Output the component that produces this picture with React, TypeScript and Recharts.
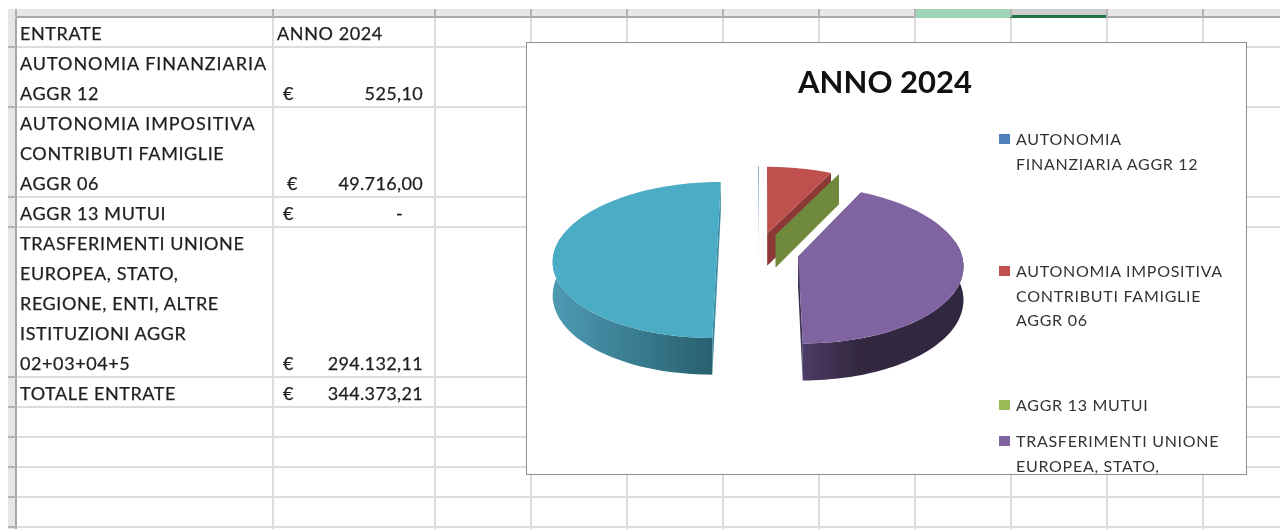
import React from 'react';
import { PieChart, Pie, Legend } from 'recharts';

const categories = [
  'AUTONOMIA FINANZIARIA AGGR 12',
  'AUTONOMIA IMPOSITIVA CONTRIBUTI FAMIGLIE AGGR 06',
  'AGGR 13 MUTUI',
  'TRASFERIMENTI UNIONE EUROPEA, STATO, REGIONE, ENTI, ALTRE ISTITUZIONI AGGR 02+03+04+5',
  'TOTALE ENTRATE',
];
const values = [525.1, 49716, 0, 294132.11, 344373.21];
const amounts = ['525,10', '49.716,00', '-', '294.132,11', '344.373,21'];

const topColors = ['#4F81BD', '#C0504D', '#9BBB59', '#8064A2', '#4BACC6'];
const wallColors = ['#b9cde5', '#8c3836', '#6f8a3d', '#3c3152', '#3a8aa3'];
const outerWalls = ['#b9cde5', '#8c3836', '#6f8a3d', 'url(#wallPurple)', 'url(#wallTeal)'];

const rowLabels = [
  ['AUTONOMIA FINANZIARIA', 'AGGR 12'],
  ['AUTONOMIA IMPOSITIVA', 'CONTRIBUTI FAMIGLIE', 'AGGR 06'],
  ['AGGR 13 MUTUI'],
  ['TRASFERIMENTI UNIONE', 'EUROPEA, STATO,', 'REGIONE, ENTI, ALTRE', 'ISTITUZIONI AGGR', '02+03+04+5'],
  ['TOTALE ENTRATE'],
];
const euroX = [283, 287, 283, 283, 283];
const legendLabels = [
  ['AUTONOMIA', 'FINANZIARIA AGGR 12'],
  ['AUTONOMIA IMPOSITIVA', 'CONTRIBUTI FAMIGLIE', 'AGGR 06'],
  ['AGGR 13 MUTUI'],
  ['TRASFERIMENTI UNIONE', 'EUROPEA, STATO,'],
];
const legendTops = [74, 206, 340, 376];

const columnLines = [15, 272, 434, 530, 626, 722, 818, 914, 1010, 1106, 1202];
const rowLines = [46, 106, 196, 226, 376, 406, 436, 466, 496, 526];

const chartData = categories.map((name, i) => ({ name, value: values[i] }));

const EXPLODE = 41;
const DEPTH = 33;
const TILT = 0.4735;
const PERSPECTIVE = 1600;
const FONT = 'Lato, sans-serif';

// fetta 3D: angoli e raggio arrivano da Pie, qui solo la proiezione
const Slice3D = (props: any, idx: number) => {
  const { cx, cy, outerRadius: r, startAngle, endAngle } = props;
  const a1 = ((90 - startAngle) * Math.PI) / 180;
  const a2 = ((90 - endAngle) * Math.PI) / 180;
  const mid = (a1 + a2) / 2;
  const eu = EXPLODE * Math.sin(mid);
  const ev = -EXPLODE * Math.cos(mid);

  const project = (u: number, v: number, z: number) => {
    const w = 1 - v / PERSPECTIVE;
    return `${(cx + u / w).toFixed(1)},${(cy + (TILT * v + z) / w).toFixed(1)}`;
  };
  const rim = (a: number, z: number) =>
    project(eu + r * Math.sin(a), ev - r * Math.cos(a), z);
  const arc = (from: number, to: number, z: number) => {
    const n = Math.max(1, Math.ceil(Math.abs(to - from) / 0.03));
    return Array.from({ length: n + 1 }, (_, i) => rim(from + ((to - from) * i) / n, z));
  };

  const frontFrom = Math.max(a1, Math.PI / 2 - 0.2);
  const frontTo = Math.min(a2, (Math.PI * 3) / 2 + 0.2);
  const hasFront = frontTo > frontFrom;
  const radialWall = (a: number) =>
    [project(eu, ev, 0), rim(a, 0), rim(a, DEPTH), project(eu, ev, DEPTH)].join(' ');

  return (
    <g>
      <polygon points={radialWall(a1)} fill={wallColors[idx]} />
      <polygon points={radialWall(a2)} fill={wallColors[idx]} />
      {hasFront && (
        <polygon
          points={[...arc(frontFrom, frontTo, 0), ...arc(frontTo, frontFrom, DEPTH)].join(' ')}
          fill={outerWalls[idx]}
        />
      )}
      {a2 > a1 && (
        <polygon points={[project(eu, ev, 0), ...arc(a1, a2, 0)].join(' ')} fill={topColors[idx]} />
      )}
    </g>
  );
};

const LegendBox = () => (
  <div style={{ position: 'relative', width: 240, height: 430 }}>
    {legendLabels.map((lines, i) => (
      <div key={i} style={{ position: 'absolute', left: 0, top: legendTops[i] }}>
        <div style={{ position: 'absolute', left: 0, top: 7, width: 11, height: 10, background: topColors[i] }} />
        {lines.map((line, j) => (
          <div
            key={j}
            style={{
              position: 'absolute', left: 17, top: j * 24.7, whiteSpace: 'nowrap',
              fontSize: 16, letterSpacing: 0.72, lineHeight: '24px', color: '#333',
            }}
          >
            {line}
          </div>
        ))}
      </div>
    ))}
  </div>
);

const cell = (text: string, x: number, y: number, right?: boolean, spacing = 0.8) => (
  <div
    key={`${text}-${x}-${y}`}
    style={{
      position: 'absolute', top: y - 15, height: 30, lineHeight: '30px', whiteSpace: 'nowrap',
      fontSize: 18, letterSpacing: spacing, color: '#1f1f1f', WebkitTextStroke: '0.25px #1f1f1f',
      ...(right ? { right: 1280 - x } : { left: x }),
    }}
  >
    {text}
  </div>
);

const Sheet = () => {
  let y = 63;
  const cells: React.ReactNode[] = [cell('ENTRATE', 20, 33, false, 0.6), cell('ANNO 2024', 277, 33, false, 0.6)];
  rowLabels.forEach((lines, i) => {
    lines.forEach((line) => {
      cells.push(cell(line, 20, y, false, line.length > 19 && line.startsWith('AUTONOMIA') ? 0.95 : 0.6));
      y += 30;
    });
    cells.push(cell('€', euroX[i], y - 30));
    cells.push(cell(amounts[i], i === 2 ? 403 : 423, y - 30, true, 0.35));
  });
  return (
    <>
      <div style={{ position: 'absolute', left: 8, top: 9, width: 1272, height: 8, background: '#e6e6e6' }} />
      <div style={{ position: 'absolute', left: 8, top: 9, width: 8, height: 520, background: '#e6e6e6' }} />
      <div style={{ position: 'absolute', left: 16, top: 16, width: 1264, height: 2, background: '#a9a9a9' }} />
      <div style={{ position: 'absolute', left: 914, top: 9, width: 96, height: 9, background: '#9fd5b7' }} />
      <div style={{ position: 'absolute', left: 1010, top: 9, width: 96, height: 7, background: '#cfcfcf' }} />
      <div style={{ position: 'absolute', left: 1010, top: 15, width: 96, height: 3, background: '#217346' }} />
      {columnLines.map((x) => (
        <React.Fragment key={x}>
          <div style={{ position: 'absolute', left: x, top: 9, width: 2, height: 8, background: '#b4b4b4' }} />
          <div style={{ position: 'absolute', left: x, top: 18, width: 2, height: 511, background: x === 15 ? '#a9a9a9' : '#dcdcdc' }} />
        </React.Fragment>
      ))}
      {rowLines.map((y0) => (
        <React.Fragment key={y0}>
          <div style={{ position: 'absolute', left: 8, top: y0, width: 8, height: 2, background: '#b4b4b4' }} />
          <div style={{ position: 'absolute', left: 17, top: y0, width: 1263, height: 2, background: '#dcdcdc' }} />
        </React.Fragment>
      ))}
      {cells}
    </>
  );
};

export default function App() {
  return (
    <div style={{ position: 'relative', width: 1280, height: 529, overflow: 'hidden', background: '#fff', fontFamily: FONT, filter: 'blur(0.35px)' }}>
      <style>{'body{margin:0}'}</style>
      <Sheet />
      <div
        style={{
          position: 'absolute', left: 526, top: 42, width: 719, height: 431, background: '#fff',
          border: '1.5px solid #8e8e8e', overflow: 'hidden',
        }}
      >
        <PieChart width={719} height={431} margin={{ top: 0, right: 0, bottom: 0, left: 0 }}>
          <defs>
            <linearGradient id="wallTeal" x1="0" y1="0" x2="1" y2="0">
              <stop offset="0%" stopColor="#4d9ab3" />
              <stop offset="100%" stopColor="#28606f" />
            </linearGradient>
            <linearGradient id="wallPurple" x1="0" y1="0" x2="1" y2="0">
              <stop offset="0%" stopColor="#4c3c66" />
              <stop offset="35%" stopColor="#33283f" />
              <stop offset="100%" stopColor="#302740" />
            </linearGradient>
          </defs>
          <text x={358} y={50} textAnchor="middle" fontFamily={FONT} fontWeight={700} fontSize={31} fill="#111">
            ANNO 2024
          </text>
          <Pie
            data={chartData}
            dataKey="value"
            nameKey="name"
            cx={231}
            cy={209}
            outerRadius={163}
            startAngle={90}
            endAngle={-270}
            stroke="none"
            shape={Slice3D as any}
            isAnimationActive={false}
          />
          <Legend content={<LegendBox />} wrapperStyle={{ position: 'absolute', left: 472, top: 10, width: 240, height: 430 }} />
        </PieChart>
      </div>
    </div>
  );
}
